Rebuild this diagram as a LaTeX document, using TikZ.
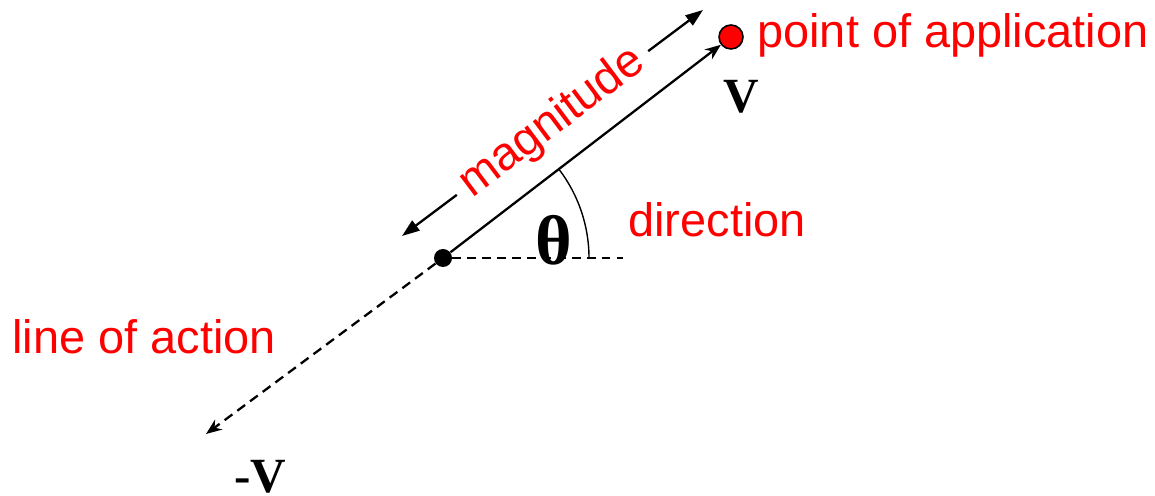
\documentclass[tikz,border=0pt]{standalone}
\usepackage{fontspec}
\setmainfont{Liberation Serif}
\newfontfamily\lblfont{Liberation Sans}
\usetikzlibrary{arrows.meta,positioning}
\definecolor{LabelRed}{HTML}{FF0000}
\begin{document}
\begin{tikzpicture}[x=0.02cm,y=0.02cm,
    lbl/.style={font=\lblfont\fontsize{26.7}{32}\selectfont,text=LabelRed,inner sep=0pt},
    vec/.style={font=\bfseries\fontsize{28}{32}\selectfont,inner sep=0pt},
    tail/.style={circle,fill=black,minimum size=0.36cm,inner sep=0pt},
    head/.style={circle,draw=black,fill=LabelRed,line width=0.9pt,minimum size=0.48cm,inner sep=0pt}]
    \useasboundingbox (0,0) rectangle (1155,496);
    \node[tail] (o) at (443,238) {};
    \node[head] (p) at (731,459) {};
    \coordinate (neg) at (206,62);
    \coordinate (hz) at (623,238);
    \coordinate (m1) at (402,260);
    \coordinate (m2) at (703,486);
    \draw[dashed,line width=0.8pt,dash pattern=on 5pt off 3.5pt] (o) -- (hz);
    \draw[line width=0.8pt] (o.center) ++(146,0) arc[start angle=0,end angle=37.4,radius=2.92cm];
    \draw[-{Stealth[length=9pt,width=7pt]},line width=1.3pt] (o) -- (p);
    \draw[-{Stealth[length=9pt,width=7pt]},line width=1.3pt,dash pattern=on 5.5pt off 3.5pt] (o) -- (neg);
    \draw[{Triangle[length=10pt,width=7pt]}-{Triangle[length=10pt,width=7pt]},line width=1.3pt] (m1) -- (m2)
      node[midway,sloped,lbl,fill=white,inner xsep=0.2cm,inner ysep=2pt] (mag) {magnitude};
    \node[lbl,anchor=base west] (poa) at (757,448) {point of application};
    \node[lbl,anchor=base west] (dir) at (628,259) {direction};
    \node[lbl,anchor=base west] (loa) at (12,142) {line of action};
    \node[vec] (v) at (741,399) {V};
    \node[vec] (nv) at (260,19) {-V};
    \node[font=\bfseries\fontsize{40}{44}\selectfont,inner sep=0pt] (th) at (554,256) {θ};
  \end{tikzpicture}
\end{document}
